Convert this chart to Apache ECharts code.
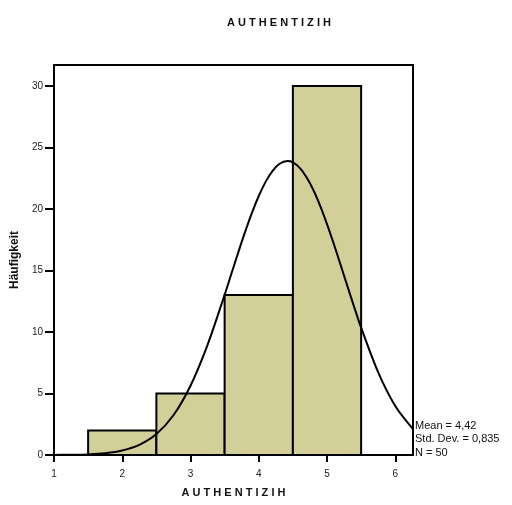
<!DOCTYPE html>
<html>
<head>
<meta charset="utf-8">
<script src="https://cdn.jsdelivr.net/npm/echarts@6/dist/echarts.min.js"></script>
<style>
  html, body { margin: 0; padding: 0; background: #fff; }
  #main { width: 512px; height: 505px; }
</style>
</head>
<body>
<div id="main"></div>
<script>
// Klassen des Histogramms (Grenzen) und Häufigkeiten
var binStart = [1.5, 2.5, 3.5, 4.5];
var binEnd = [2.5, 3.5, 4.5, 5.5];
var counts = [2, 5, 13, 30];

// Normalverteilungskurve
var curveX = [1, 1.25, 1.5, 1.75, 2, 2.25, 2.5, 2.75, 3, 3.25, 3.5, 3.6, 3.7, 3.8, 3.9, 4, 4.1, 4.2, 4.3, 4.42,
              4.5, 4.6, 4.7, 4.8, 4.9, 5, 5.1, 5.2, 5.3, 5.4, 5.5, 5.75, 6, 6.26];
var curveY = [0.005, 0.02, 0.05, 0.14, 0.36, 0.82, 1.7, 3.23, 5.63, 8.95, 13.02, 14.75, 16.47, 18.13, 19.68, 21.05, 22.2, 23.08, 23.65, 23.89,
              23.78, 23.34, 22.58, 21.54, 20.25, 18.77, 17.15, 15.44, 13.71, 12.0, 10.35, 6.72, 3.99, 2.11];

// Achsenbeschriftungen
var xTicks = [1, 2, 3, 4, 5, 6];
var yTicks = [0, 5, 10, 15, 20, 25, 30];
var statsLines = ['Mean = 4,42', 'Std. Dev. = 0,835', 'N = 50'];

var FONT = '"Liberation Sans", Arial, sans-serif';

var histData = [];
for (var i = 0; i < counts.length; i++) {
    histData.push([binStart[i], binEnd[i], counts[i]]);
}
var curveData = [];
for (var j = 0; j < curveX.length; j++) {
    curveData.push([curveX[j], curveY[j]]);
}

function spaced(s) {
    return s.split('').join(' ');
}

var statsGraphic = [];
for (var k = 0; k < statsLines.length; k++) {
    statsGraphic.push({
        type: 'text', left: 415, top: 420 + k * 13.5,
        style: { text: statsLines[k], font: '11px ' + FONT, fill: '#111' }
    });
}

var chart = echarts.init(document.getElementById('main'));
var option = {
    animation: false,
    title: {
        text: spaced('AUTHENTIZIH'),
        left: 274, top: 12, textAlign: 'center',
        textStyle: { fontFamily: FONT, fontSize: 11, fontWeight: 'bold', color: '#111' }
    },
    grid: {
        left: 54, right: 99, top: 65, bottom: 50,
        show: true, borderColor: '#000', borderWidth: 2, backgroundColor: '#fff'
    },
    xAxis: {
        type: 'value', min: 1, max: 6.26,
        name: spaced('AUTHENTIZIH'), nameLocation: 'middle', nameGap: 32,
        nameTextStyle: { fontFamily: FONT, fontSize: 11, fontWeight: 'bold', color: '#111' },
        axisLine: { show: true, onZero: false, lineStyle: { color: '#000', width: 2 } },
        axisTick: { show: true, customValues: xTicks, length: 7, lineStyle: { color: '#000', width: 2 } },
        axisLabel: { customValues: xTicks, fontFamily: FONT, fontSize: 10, color: '#222', margin: 14 },
        splitLine: { show: false }
    },
    yAxis: {
        type: 'value', min: 0, max: 31.7,
        name: 'Häufigkeit', nameLocation: 'middle', nameGap: 29,
        nameTextStyle: { fontFamily: FONT, fontSize: 12, fontWeight: 'bold', color: '#111' },
        axisLine: { show: true, lineStyle: { color: '#000', width: 2 } },
        axisTick: { show: true, customValues: yTicks, length: 9, lineStyle: { color: '#000', width: 2 } },
        axisLabel: { customValues: yTicks, fontFamily: FONT, fontSize: 10, color: '#222', margin: 11 },
        splitLine: { show: false }
    },
    graphic: statsGraphic,
    series: [
        {
            type: 'custom',
            data: histData,
            z: 2,
            renderItem: function (params, api) {
                var p0 = api.coord([api.value(0), api.value(2)]);
                var p1 = api.coord([api.value(1), 0]);
                return {
                    type: 'rect',
                    shape: { x: p0[0], y: p0[1], width: p1[0] - p0[0], height: p1[1] - p0[1] },
                    style: { fill: '#d3cf98', stroke: '#000', lineWidth: 2 }
                };
            }
        },
        {
            type: 'line',
            data: curveData,
            smooth: 0.3,
            showSymbol: false,
            z: 3,
            lineStyle: { color: '#000', width: 2 }
        }
    ]
};
chart.setOption(option);
</script>
</body>
</html>
